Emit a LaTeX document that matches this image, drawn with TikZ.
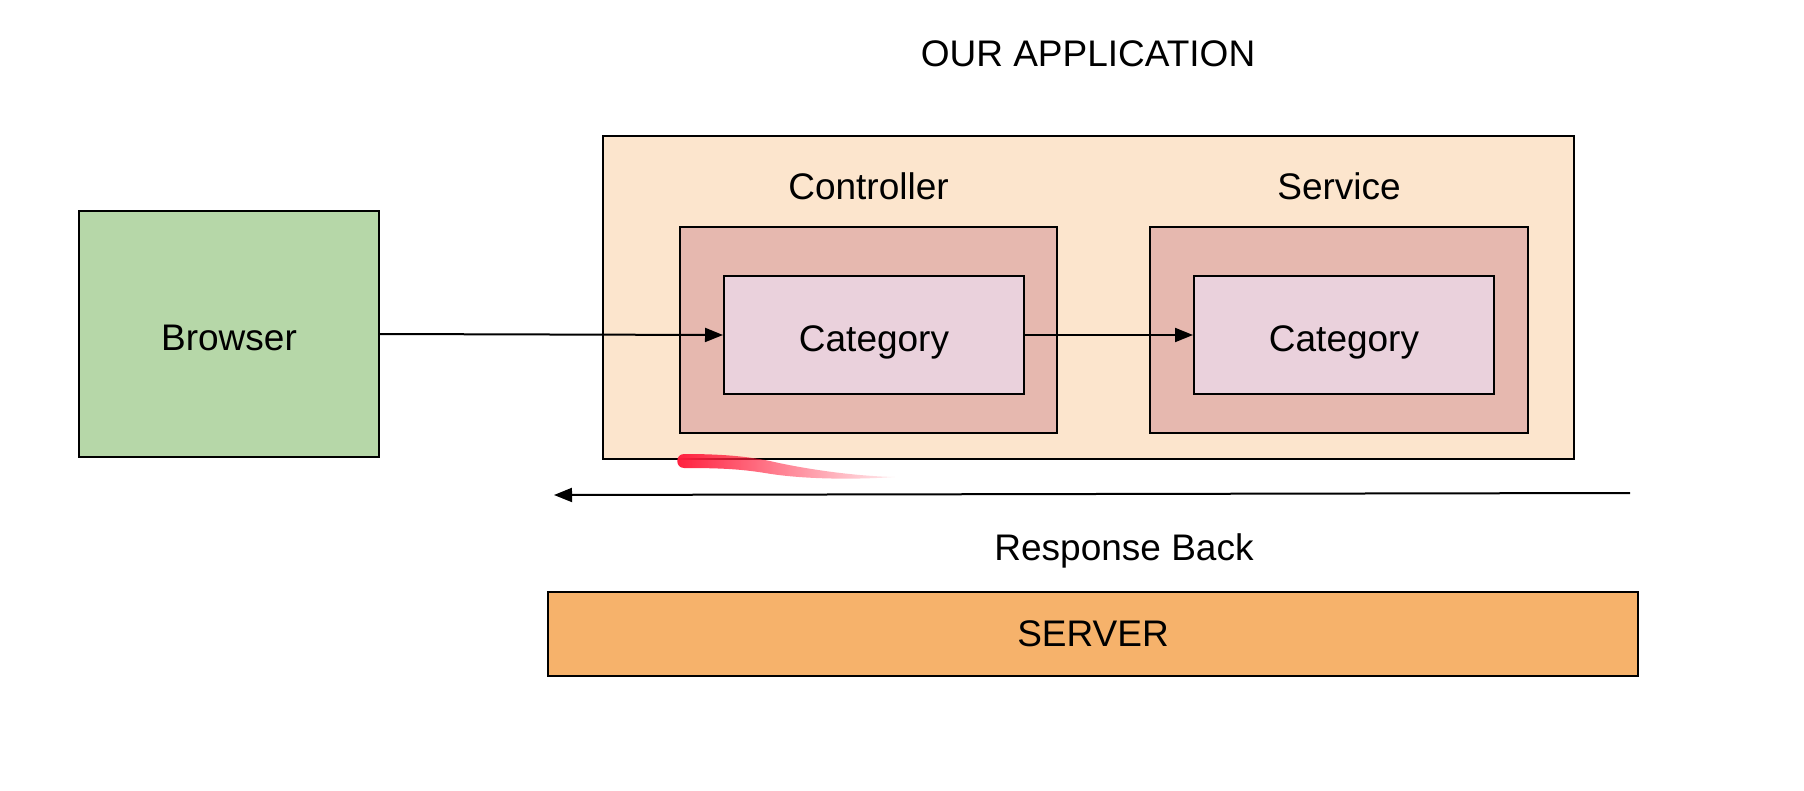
\documentclass[tikz,border=0pt]{standalone}
\usepackage{fontspec}
\setmainfont{Liberation Sans}
\usetikzlibrary{arrows.meta,fadings}
\definecolor{browsergreen}{HTML}{B6D7A8}
\definecolor{apppeach}{HTML}{FCE5CD}
\definecolor{layerred}{HTML}{E6B8AF}
\definecolor{catpink}{HTML}{EAD1DC}
\definecolor{serverorange}{HTML}{F6B26B}
\definecolor{brushred}{HTML}{FF1F3D}
\tikzfading[name=brushfade, left color=transparent!0, middle color=transparent!8, right color=transparent!92]
\tikzset{
  box/.style={draw=black, line width=2pt, inner sep=0pt, font=\fontsize{37}{44}\selectfont},
  boxtext/.style={text height=32pt, text depth=0pt},
  lbl/.style={anchor=base, inner sep=0pt, font=\fontsize{37}{44}\selectfont},
  conn/.style={line width=2pt, -{Triangle[length=18pt,width=14pt]}},
}
\begin{document}
\begin{tikzpicture}[x=1pt,y=-1pt]
\useasboundingbox (0,0) rectangle (1804,790);
\fill[white] (0,0) rectangle (1804,790);

\node[lbl] (title) at (1088,66) {OUR APPLICATION};

\node[box, boxtext, fill=browsergreen, minimum width=300pt, minimum height=246pt] (browser) at (229,334) {Browser};

\node[box, fill=apppeach, minimum width=971pt, minimum height=323pt] (app) at (1088.5,297.5) {};

\node[lbl] (ctrllbl) at (868.5,199) {Controller};
\node[lbl] (svclbl) at (1339,199) {Service};

\node[box, fill=layerred, minimum width=377pt, minimum height=206pt] (ctrl) at (868.5,330) {};
\node[box, fill=layerred, minimum width=378pt, minimum height=206pt] (svc) at (1339,330) {};

\node[box, boxtext, fill=catpink, minimum width=300pt, minimum height=118pt] (cat1) at (874,335) {Category};
\node[box, boxtext, fill=catpink, minimum width=300pt, minimum height=118pt] (cat2) at (1344,335) {Category};

\draw[conn] (browser.east) -- (cat1.west);
\draw[conn] (cat1.east) -- (cat2.west);

% brush mark
\fill[brushred, path fading=brushfade]
  (684,454) .. controls (720,454) and (745,456) .. (770,461)
  .. controls (800,468) and (850,476) .. (895,477)
  .. controls (850,480) and (800,479) .. (765,473)
  .. controls (740,469) and (720,468) .. (684,468)
  .. controls (675,468) and (675,454) .. (684,454) -- cycle;

\coordinate (respstart) at (1630,493);
\coordinate (respend) at (554,495);
\draw[conn] (respstart) -- (respend);

\node[lbl] (resplbl) at (1124,560) {Response Back};

\node[box, fill=serverorange, minimum width=1090pt, minimum height=84pt] (server) at (1093,634) {SERVER};
\end{tikzpicture}
\end{document}
